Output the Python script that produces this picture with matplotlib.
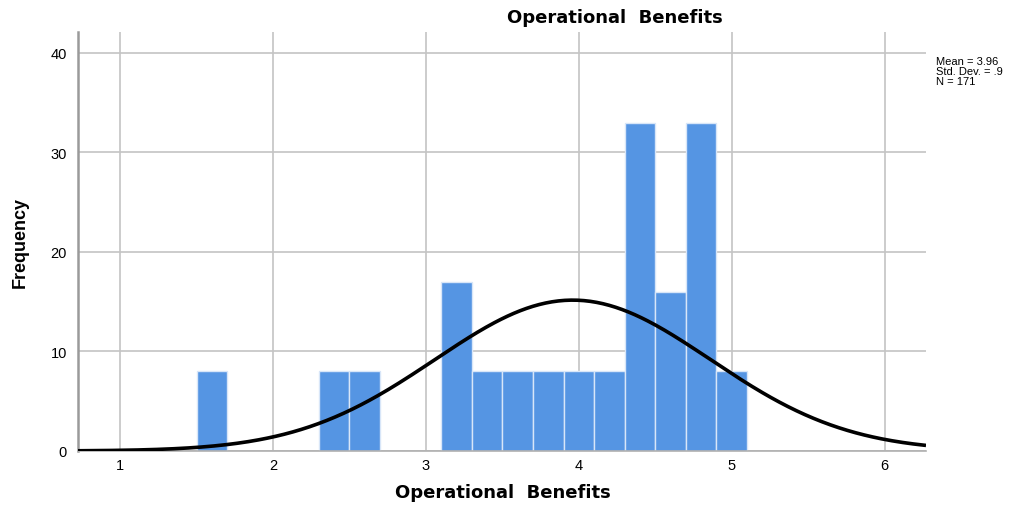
import numpy as np
import matplotlib.pyplot as plt

plt.rcParams['font.family'] = ['Liberation Sans', 'DejaVu Sans']

# Histogram bins (lower edges, width 0.2) and frequencies
bin_starts = [1.5, 2.3, 2.5, 3.1, 3.3, 3.5, 3.7, 3.9, 4.1, 4.3, 4.5, 4.7, 4.9]
counts = [8, 8, 8, 17, 8, 8, 8, 8, 8, 33, 16, 33, 8]
bin_width = 0.2

mean = 3.96
std_dev = 0.9
n = 171

fig = plt.figure(figsize=(10.36, 5.06), dpi=100)
ax = fig.add_axes([78 / 1036, 54 / 506, 848 / 1036, 419 / 506])

ax.bar(bin_starts, counts, width=bin_width, align='edge',
       color='#5595e3', edgecolor='#d8e6f8', linewidth=1.0, zorder=2)

# Normal curve scaled to the histogram
xs = np.linspace(0.725, 6.27, 400)
pdf = np.exp(-0.5 * ((xs - mean) / std_dev) ** 2) / (std_dev * np.sqrt(2 * np.pi))
ax.plot(xs, n * bin_width * pdf, color='black', lw=2.6, zorder=3,
        solid_capstyle='butt')

ax.set_xlim(0.725, 6.27)
ax.set_ylim(0, 42.1)
ax.set_xticks([1, 2, 3, 4, 5, 6])
ax.set_yticks([0, 10, 20, 30, 40])
ax.grid(True, color='#c4c4c4', lw=1.2, zorder=0)
ax.set_axisbelow(True)
ax.tick_params(length=0, labelsize=10.5)
ax.tick_params(axis='x', pad=5)
ax.tick_params(axis='y', pad=8)

for side in ('top', 'right'):
    ax.spines[side].set_visible(False)
ax.spines['left'].set_color('#9a9a9a')
ax.spines['left'].set_linewidth(1.8)
ax.spines['bottom'].set_color('#b0b0b0')
ax.spines['bottom'].set_linewidth(1.2)

bold_font = dict(family='DejaVu Sans', fontsize=13, fontweight='bold')
fig.text(503 / 1036, 1 - 493 / 506, 'Operational  Benefits',
         ha='center', va='center', **bold_font)
fig.text(615 / 1036, 1 - 18 / 506, 'Operational  Benefits',
         ha='center', va='center', **bold_font)
fig.text(20 / 1036, 1 - 242 / 506, 'Frequency', rotation=90, fontsize=13,
         fontweight='bold', ha='center', va='center')

fig.text(936 / 1036, 1 - 57 / 506,
         'Mean = 3.96\nStd. Dev. = .9\nN = 171',
         fontsize=8, ha='left', va='top', linespacing=1.0)

fig.savefig('out.png', dpi=100)
